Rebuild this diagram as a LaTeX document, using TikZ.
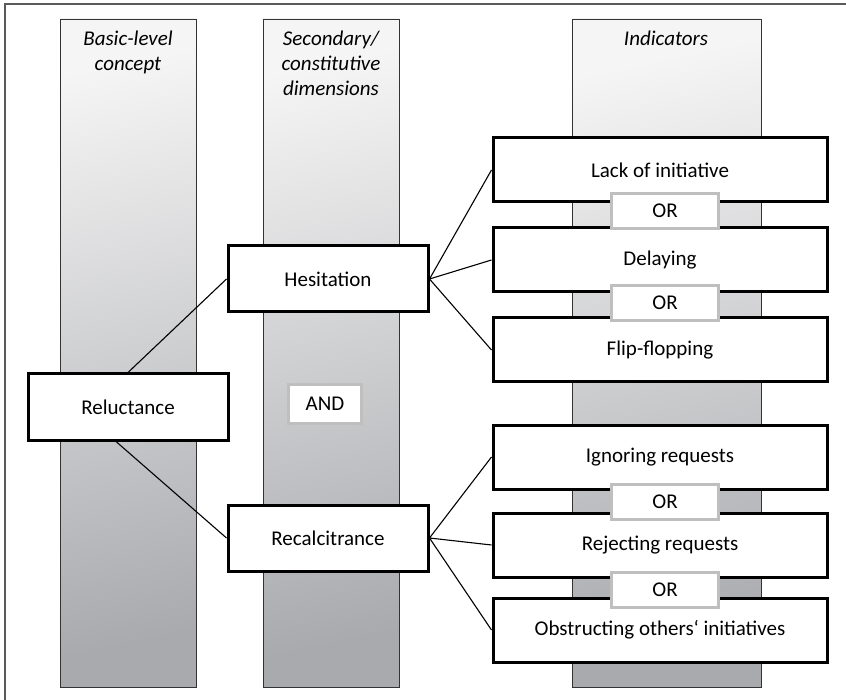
\documentclass[tikz,border=0pt]{standalone}
\usepackage{fontspec}
\setmainfont{Carlito}
\newcommand{\boxfont}{\fontsize{21}{25}\selectfont}
\definecolor{framegray}{HTML}{5A5A5A}
\definecolor{colgray}{HTML}{A9AAAE}
\definecolor{colwhite}{HTML}{F5F5F5}
\definecolor{orgray}{HTML}{BFBFBF}
\tikzset{
	colbar/.style={draw=black!80, line width=0.9pt, top color=colwhite, bottom color=colgray, shading angle=12},
	header/.style={anchor=north, align=center, inner sep=0pt, font=\boxfont\itshape},
	conceptbox/.style={draw=black, line width=3pt, fill=white, minimum width=200pt, minimum height=66pt, inner sep=0pt},
	indicbox/.style={draw=black, line width=3pt, fill=white, minimum width=334pt, minimum height=64pt, inner sep=0pt},
	logicbox/.style={draw=orgray, line width=3pt, fill=white, minimum width=107pt, minimum height=35pt, inner sep=0pt},
	link/.style={draw=black, line width=1.1pt}
}
\begin{document}
\begin{tikzpicture}[x=1pt, y=-1pt, font=\boxfont]
			\useasboundingbox (0,0) rectangle (846,700);
			% frame (only top and left edge visible)
			\draw [framegray, line width=1.5pt] (5,700) -- (5,4) -- (846,4);
			% the three columns
			\path [colbar] (60,19) rectangle (196,687);
			\path [colbar] (263,19) rectangle (399,687);
			\path [colbar] (572,19) rectangle (761,687);
			\node (hbasic) [header] at (128,31) {Basic-level\\concept};
			\node (hsecond) [header] at (331,31) {Secondary/\\constitutive\\dimensions};
			\node (hindic) [header] at (666,31) {Indicators};
			% concept and dimensions
			\node (reluct) [conceptbox] at (128,407) {Reluctance};
			\node (hesit) [conceptbox] at (328,279) {Hesitation};
			\node (recalc) [conceptbox] at (328,538) {Recalcitrance};
			\node (and) [logicbox, minimum width=73pt, minimum height=39pt] at (325,404) {AND};
			% indicators
			\node (lack) [indicbox] at (660,170) {Lack of initiative};
			\node (delay) [indicbox] at (660,260) {Delaying};
			\node (flip) [indicbox] at (660,350) {Flip-flopping};
			\node (ignore) [indicbox] at (660,457) {Ignoring requests};
			\node (reject) [indicbox] at (660,545) {Rejecting requests};
			\node (obstruct) [indicbox] at (660,630) {Obstructing others‘ initiatives};
			\node (or1) [logicbox] at (665,211) {OR};
			\node (or2) [logicbox] at (665,303) {OR};
			\node (or3) [logicbox] at (665,502) {OR};
			\node (or4) [logicbox] at (665,590) {OR};
			% connectors
			\draw [link] (reluct.north) -- (hesit.west);
			\draw [link] ([xshift=-12pt]reluct.south) -- (recalc.west);
			\foreach \ind in {lack, delay, flip}
				\draw [link] (hesit.east) -- (\ind.west);
			\foreach \ind in {ignore, reject, obstruct}
				\draw [link] (recalc.east) -- (\ind.west);
		\end{tikzpicture}
\end{document}
